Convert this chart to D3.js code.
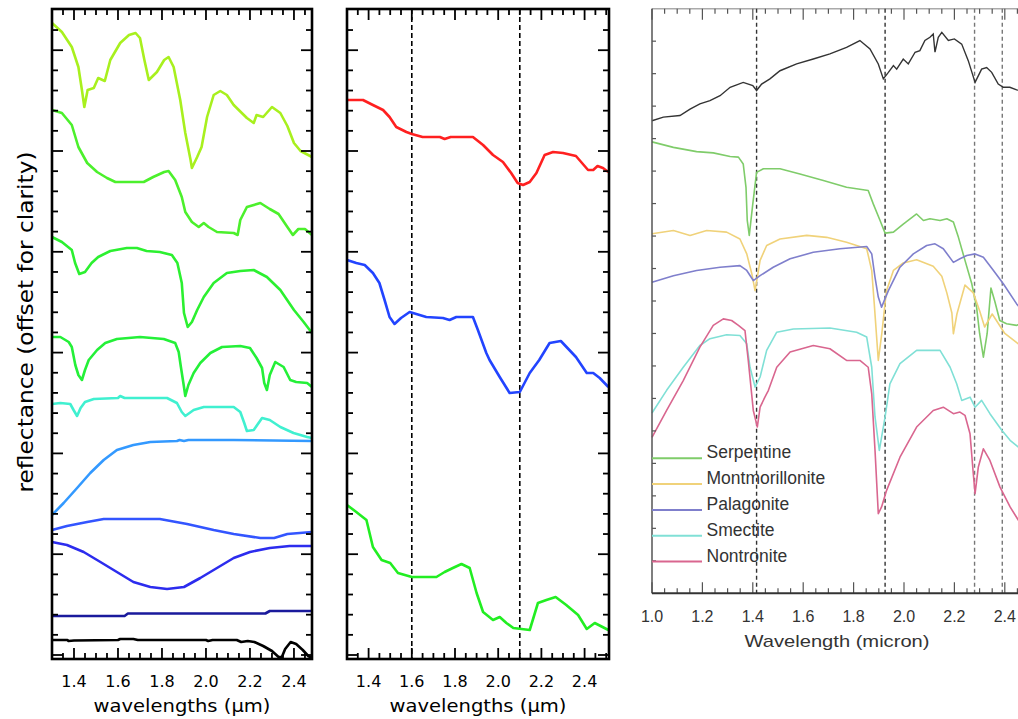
<!DOCTYPE html>
<html>
<head>
<meta charset="utf-8">
<script src="https://cdn.jsdelivr.net/npm/d3@7"></script>
<style>
  html, body { margin: 0; padding: 0; background: #fff; }
  svg { display: block; }
</style>
</head>
<body>
<div id="chart"></div>
<script>
'use strict';

// ---------- data (wavelength in micron, reflectance offset for clarity) ----------

// left panel, top to bottom
const leftSpec1 = [[1.30,6.36],[1.345,6.27],[1.39,6.12],[1.42,5.92],[1.436,5.69],[1.447,5.52],[1.462,5.69],[1.49,5.71],[1.51,5.81],[1.54,5.78],[1.565,5.99],[1.61,6.16],[1.65,6.24],[1.68,6.26],[1.70,6.21],[1.72,5.99],[1.74,5.79],[1.777,5.87],[1.81,5.99],[1.83,6.02],[1.853,5.92],[1.883,5.59],[1.906,5.26],[1.93,4.99],[1.936,4.91],[1.96,5.02],[1.98,5.12],[2.005,5.42],[2.035,5.64],[2.065,5.68],[2.095,5.64],[2.126,5.54],[2.186,5.41],[2.217,5.36],[2.23,5.44],[2.26,5.42],[2.30,5.52],[2.338,5.46],[2.37,5.33],[2.40,5.16],[2.43,5.08],[2.482,5.02]];
const leftSpec2 = [[1.30,5.49],[1.345,5.46],[1.39,5.34],[1.42,5.12],[1.46,4.96],[1.505,4.87],[1.55,4.81],[1.588,4.77],[1.717,4.77],[1.76,4.82],[1.81,4.87],[1.83,4.88],[1.86,4.79],[1.89,4.62],[1.906,4.47],[1.936,4.37],[1.967,4.32],[1.99,4.36],[2.012,4.32],[2.05,4.27],[2.126,4.26],[2.144,4.24],[2.156,4.39],[2.186,4.52],[2.247,4.56],[2.29,4.50],[2.33,4.45],[2.37,4.32],[2.395,4.24],[2.42,4.30],[2.45,4.30],[2.482,4.24]];
const leftSpec3 = [[1.30,4.22],[1.345,4.17],[1.39,4.09],[1.405,3.96],[1.424,3.85],[1.45,3.87],[1.48,3.96],[1.51,4.02],[1.565,4.08],[1.64,4.11],[1.686,4.11],[1.73,4.08],[1.79,4.07],[1.845,4.04],[1.87,3.96],[1.89,3.76],[1.90,3.46],[1.917,3.32],[1.936,3.37],[1.96,3.49],[1.99,3.62],[2.035,3.76],[2.095,3.86],[2.156,3.88],[2.217,3.89],[2.277,3.82],[2.338,3.69],[2.40,3.49],[2.444,3.37],[2.482,3.26]];
const leftSpec4 = [[1.30,3.22],[1.338,3.22],[1.376,3.17],[1.39,3.12],[1.406,2.94],[1.42,2.84],[1.436,2.79],[1.45,2.89],[1.467,2.99],[1.505,3.09],[1.542,3.16],[1.595,3.20],[1.70,3.22],[1.808,3.20],[1.86,3.16],[1.876,3.07],[1.886,2.92],[1.90,2.72],[1.906,2.63],[1.92,2.74],[1.944,2.86],[1.974,2.96],[2.02,3.06],[2.073,3.12],[2.156,3.13],[2.20,3.11],[2.23,3.01],[2.255,2.91],[2.265,2.76],[2.277,2.69],[2.29,2.84],[2.315,2.97],[2.353,2.92],[2.383,2.79],[2.41,2.77],[2.46,2.76],[2.482,2.72]];
const leftSpec5 = [[1.30,2.55],[1.338,2.56],[1.383,2.55],[1.398,2.49],[1.414,2.43],[1.43,2.51],[1.45,2.57],[1.49,2.60],[1.60,2.61],[1.61,2.63],[1.63,2.61],[1.70,2.61],[1.823,2.61],[1.868,2.56],[1.89,2.47],[1.906,2.43],[1.944,2.49],[1.99,2.52],[2.126,2.52],[2.156,2.47],[2.174,2.36],[2.186,2.28],[2.217,2.29],[2.255,2.41],[2.29,2.39],[2.338,2.32],[2.398,2.26],[2.46,2.22],[2.482,2.21]];
const leftSpec6 = [[1.30,1.44],[1.353,1.56],[1.414,1.71],[1.474,1.86],[1.535,1.99],[1.595,2.09],[1.67,2.14],[1.747,2.17],[1.868,2.18],[1.88,2.19],[1.90,2.18],[1.92,2.19],[2.126,2.19],[2.482,2.18]];
const leftSpec7 = [[1.30,1.29],[1.368,1.33],[1.46,1.37],[1.535,1.40],[1.79,1.40],[1.914,1.35],[2.035,1.29],[2.126,1.25],[2.247,1.21],[2.31,1.21],[2.37,1.25],[2.482,1.27]];
const leftSpec8 = [[1.30,1.17],[1.368,1.14],[1.444,1.07],[1.52,0.97],[1.595,0.87],[1.67,0.77],[1.747,0.72],[1.823,0.70],[1.90,0.72],[1.974,0.81],[2.05,0.91],[2.126,1.01],[2.20,1.07],[2.29,1.11],[2.38,1.13],[2.482,1.13]];
const leftSpec9 = [[1.30,0.43],[1.63,0.43],[1.645,0.455],[2.27,0.455],[2.29,0.48],[2.482,0.48]];
const leftSpec10 = [[1.30,0.19],[1.37,0.19],[1.375,0.18],[1.40,0.185],[1.60,0.19],[1.61,0.20],[1.67,0.20],[1.69,0.19],[2.00,0.19],[2.01,0.18],[2.03,0.19],[2.14,0.19],[2.16,0.17],[2.19,0.18],[2.22,0.17],[2.26,0.13],[2.30,0.08],[2.33,0.02],[2.345,0.02],[2.36,0.10],[2.385,0.17],[2.41,0.15],[2.44,0.09],[2.465,0.03],[2.482,0.01]];

// middle panel, top to bottom
const midRed = [[1.30,5.59],[1.374,5.59],[1.42,5.54],[1.467,5.49],[1.497,5.42],[1.528,5.32],[1.575,5.27],[1.60,5.25],[1.65,5.22],[1.73,5.22],[1.752,5.20],[1.78,5.22],[1.883,5.22],[1.93,5.14],[1.976,5.04],[2.022,4.97],[2.06,4.86],[2.09,4.76],[2.115,4.74],[2.146,4.77],[2.177,4.86],[2.215,5.04],[2.254,5.07],[2.30,5.06],[2.36,5.03],[2.416,4.89],[2.44,4.89],[2.46,4.93],[2.485,4.91],[2.51,4.87]];
const midBlue = [[1.30,3.99],[1.343,3.96],[1.382,3.94],[1.42,3.86],[1.45,3.76],[1.474,3.59],[1.497,3.42],[1.52,3.35],[1.55,3.41],[1.59,3.47],[1.667,3.42],[1.744,3.41],[1.775,3.39],[1.806,3.42],[1.883,3.42],[1.906,3.29],[1.945,3.06],[1.96,2.99],[2.007,2.82],[2.053,2.66],[2.10,2.67],[2.146,2.86],[2.19,2.99],[2.238,3.16],[2.29,3.18],[2.36,3.02],[2.41,2.86],[2.44,2.86],[2.47,2.81],[2.51,2.72]];
const midGreen = [[1.30,1.54],[1.343,1.47],[1.39,1.39],[1.42,1.12],[1.46,0.99],[1.50,0.96],[1.536,0.86],[1.60,0.82],[1.714,0.82],[1.752,0.87],[1.79,0.91],[1.83,0.95],[1.868,0.91],[1.90,0.66],[1.93,0.47],[1.976,0.39],[2.007,0.42],[2.038,0.36],[2.07,0.31],[2.146,0.29],[2.184,0.56],[2.223,0.59],[2.266,0.62],[2.315,0.54],[2.37,0.44],[2.41,0.30],[2.447,0.36],[2.51,0.29]];

// right panel
const rightMeasured = [[1.0,1.455],[1.045,1.466],[1.111,1.471],[1.151,1.491],[1.19,1.507],[1.23,1.517],[1.27,1.532],[1.31,1.558],[1.362,1.573],[1.40,1.563],[1.415,1.548],[1.435,1.568],[1.468,1.584],[1.508,1.609],[1.574,1.63],[1.64,1.645],[1.706,1.661],[1.772,1.681],[1.825,1.702],[1.865,1.676],[1.898,1.63],[1.918,1.584],[1.938,1.604],[1.958,1.625],[1.971,1.614],[1.997,1.645],[2.017,1.63],[2.044,1.666],[2.063,1.671],[2.083,1.702],[2.103,1.712],[2.116,1.722],[2.123,1.666],[2.136,1.712],[2.15,1.727],[2.176,1.702],[2.20,1.707],[2.229,1.691],[2.255,1.64],[2.282,1.573],[2.308,1.614],[2.328,1.619],[2.348,1.604],[2.374,1.568],[2.394,1.558],[2.42,1.558],[2.447,1.55],[2.48,1.545]];
const serpentine = [[1.0,1.39],[1.085,1.373],[1.177,1.36],[1.243,1.356],[1.31,1.345],[1.343,1.343],[1.362,1.322],[1.373,1.25],[1.378,1.148],[1.386,1.102],[1.40,1.199],[1.415,1.296],[1.442,1.307],[1.508,1.307],[1.587,1.291],[1.68,1.271],[1.772,1.25],[1.858,1.24],[1.878,1.199],[1.905,1.148],[1.925,1.109],[1.958,1.112],[1.997,1.137],[2.05,1.168],[2.077,1.148],[2.103,1.153],[2.143,1.148],[2.17,1.153],[2.196,1.143],[2.216,1.096],[2.242,1.025],[2.269,0.953],[2.288,0.881],[2.30,0.80],[2.315,0.727],[2.33,0.80],[2.345,0.94],[2.36,0.90],[2.38,0.84],[2.407,0.83],[2.447,0.825],[2.49,0.84]];
const montmorillonite = [[1.0,1.107],[1.085,1.117],[1.151,1.102],[1.217,1.117],[1.296,1.112],[1.349,1.091],[1.376,1.045],[1.396,0.984],[1.409,0.932],[1.429,1.025],[1.455,1.071],[1.508,1.091],[1.614,1.102],[1.693,1.096],[1.772,1.081],[1.852,1.061],[1.872,0.994],[1.882,0.891],[1.898,0.717],[1.912,0.80],[1.93,0.93],[1.958,0.994],[1.997,1.017],[2.05,1.027],[2.116,1.007],[2.15,0.976],[2.17,0.925],[2.19,0.863],[2.196,0.799],[2.21,0.86],[2.242,0.949],[2.275,0.925],[2.30,0.87],[2.32,0.82],[2.35,0.86],[2.40,0.80],[2.45,0.77],[2.49,0.75]];
const palagonite = [[1.0,0.958],[1.085,0.978],[1.177,0.994],[1.27,1.004],[1.349,1.009],[1.376,0.994],[1.402,0.963],[1.429,0.978],[1.481,1.004],[1.548,1.03],[1.64,1.05],[1.746,1.061],[1.852,1.068],[1.872,1.045],[1.885,0.973],[1.898,0.912],[1.911,0.881],[1.938,0.932],[1.984,1.004],[2.037,1.045],[2.09,1.071],[2.123,1.076],[2.156,1.061],[2.196,1.019],[2.222,1.03],[2.249,1.04],[2.282,1.045],[2.315,1.035],[2.355,0.994],[2.394,0.953],[2.447,0.891],[2.49,0.85]];
const smectite = [[1.0,0.555],[1.058,0.625],[1.124,0.696],[1.19,0.763],[1.23,0.784],[1.296,0.796],[1.349,0.794],[1.376,0.768],[1.389,0.696],[1.409,0.635],[1.429,0.666],[1.455,0.748],[1.495,0.804],[1.561,0.814],[1.706,0.817],[1.812,0.804],[1.852,0.789],[1.872,0.696],[1.885,0.543],[1.902,0.44],[1.925,0.543],[1.944,0.645],[1.984,0.707],[2.05,0.748],[2.143,0.748],[2.183,0.696],[2.209,0.645],[2.229,0.594],[2.262,0.604],[2.282,0.573],[2.308,0.594],[2.341,0.553],[2.388,0.502],[2.421,0.471],[2.454,0.45],[2.49,0.43]];
const nontronite = [[1.0,0.48],[1.058,0.563],[1.124,0.655],[1.19,0.758],[1.243,0.825],[1.283,0.845],[1.316,0.84],[1.343,0.825],[1.369,0.809],[1.382,0.717],[1.402,0.563],[1.418,0.512],[1.429,0.573],[1.448,0.604],[1.462,0.625],[1.495,0.696],[1.548,0.743],[1.64,0.763],[1.706,0.753],[1.772,0.717],[1.825,0.717],[1.858,0.696],[1.872,0.614],[1.885,0.44],[1.898,0.245],[1.911,0.266],[1.931,0.317],[1.984,0.419],[2.05,0.512],[2.116,0.563],[2.156,0.573],[2.196,0.553],[2.222,0.558],[2.242,0.548],[2.262,0.491],[2.275,0.368],[2.282,0.307],[2.295,0.389],[2.315,0.445],[2.341,0.409],[2.381,0.327],[2.421,0.266],[2.454,0.225],[2.49,0.20]];

const mineralNames = ['Serpentine', 'Montmorillonite', 'Palagonite', 'Smectite', 'Nontronite'];

// absorption band markers (micron)
const midBands   = [1.6, 2.1];
const rightBands = [1.415, 1.925, 2.28, 2.39];

// tick labels
const leftTickLabels  = ['1.4', '1.6', '1.8', '2.0', '2.2', '2.4'];
const rightTickLabels = ['1.0', '1.2', '1.4', '1.6', '1.8', '2.0', '2.2', '2.4'];

// ---------- styles ----------
const leftColors  = ['#a8f01e', '#4cf02c', '#2cf030', '#24f038', '#40f0d0', '#3399ff', '#3355ff', '#2c2cee', '#1a1a9c', '#000000'];
const midColors   = ['#ff2020', '#2244ff', '#22ee22'];
const mineralColors = ['#7fcc6a', '#f0d27a', '#7f7fcc', '#80e0d6', '#d9668f'];

const W = 1018, H = 719;
const hershey = '"DejaVu Sans", sans-serif';
const arial   = '"Liberation Sans", Arial, sans-serif';

const svg = d3.select('#chart').append('svg')
    .attr('width', W)
    .attr('height', H);

// Draws one of the two black-framed IDL style panels
let framedPanel = function(geo, series, colors, bands) {
    let x = d3.scaleLinear().domain(geo.xDomain).range([geo.left, geo.right]);
    let y = d3.scaleLinear().domain([0, 6.5]).range([geo.bottom, geo.top]);
    let g = svg.append('g');

    g.selectAll('line.band')
        .data(bands)
        .enter()
        .append('line')
        .attr('x1', d => x(d)).attr('x2', d => x(d))
        .attr('y1', geo.top).attr('y2', geo.bottom)
        .attr('stroke', '#000')
        .attr('stroke-width', 1.6)
        .attr('stroke-dasharray', '5,3');

    let line = d3.line().x(d => x(d[0])).y(d => y(d[1]));
    g.selectAll('path.spec')
        .data(series)
        .enter()
        .append('path')
        .attr('d', d => line(d))
        .attr('fill', 'none')
        .attr('stroke', (d, i) => colors[i])
        .attr('stroke-width', 2.6)
        .attr('stroke-linejoin', 'round');

    // x ticks every 0.05, long every 0.2
    let xt = [];
    for (let k = 26; k <= 51; k++) {
        let v = k / 20;
        if (v > geo.xDomain[0] + 0.001 && v < geo.xDomain[1] - 0.001) xt.push({v: v, major: k % 4 === 0});
    }
    let ticks = g.append('g').attr('stroke', '#000').attr('stroke-width', 1.8);
    for (let t of xt) {
        let len = t.major ? 11 : 6;
        ticks.append('line').attr('x1', x(t.v)).attr('x2', x(t.v)).attr('y1', geo.bottom).attr('y2', geo.bottom - len);
        ticks.append('line').attr('x1', x(t.v)).attr('x2', x(t.v)).attr('y1', geo.top).attr('y2', geo.top + len);
    }
    // y ticks (no labels, offsets are arbitrary)
    for (let k = 0; k <= 31; k++) {
        let v = 0.04 + k * 0.2016;
        if (v > 6.45) break;
        let len = (k % 5 === 0) ? 11 : 6;
        ticks.append('line').attr('x1', geo.left).attr('x2', geo.left + len).attr('y1', y(v)).attr('y2', y(v));
        ticks.append('line').attr('x1', geo.right).attr('x2', geo.right - len).attr('y1', y(v)).attr('y2', y(v));
    }

    g.append('rect')
        .attr('x', geo.left).attr('y', geo.top)
        .attr('width', geo.right - geo.left).attr('height', geo.bottom - geo.top)
        .attr('fill', 'none')
        .attr('stroke', '#000')
        .attr('stroke-width', 2.6);

    g.selectAll('text.tick')
        .data(leftTickLabels)
        .enter()
        .append('text')
        .attr('x', d => x(+d))
        .attr('y', 687)
        .attr('text-anchor', 'middle')
        .attr('font-family', hershey)
        .attr('font-size', 16)
        .attr('fill', '#000')
        .text(d => d);

    g.append('text')
        .attr('x', (geo.left + geo.right) / 2)
        .attr('y', 712)
        .attr('text-anchor', 'middle')
        .attr('font-family', hershey)
        .attr('font-size', 18)
        .attr('textLength', 177)
        .attr('lengthAdjust', 'spacingAndGlyphs')
        .text('wavelengths (\u03bcm)');
};

framedPanel({left: 52, right: 312, top: 9, bottom: 659, xDomain: [1.3, 2.482]},
    [leftSpec1, leftSpec2, leftSpec3, leftSpec4, leftSpec5, leftSpec6, leftSpec7, leftSpec8, leftSpec9, leftSpec10],
    leftColors, []);
framedPanel({left: 347, right: 609, top: 9, bottom: 659, xDomain: [1.3, 2.513]},
    [midRed, midBlue, midGreen], midColors, midBands);

svg.append('text')
    .attr('transform', 'translate(33,322) rotate(-90)')
    .attr('text-anchor', 'middle')
    .attr('font-family', hershey)
    .attr('font-size', 22)
    .attr('textLength', 341)
    .attr('lengthAdjust', 'spacingAndGlyphs')
    .text('reflectance (offset for clarity)');

// ---------- right panel (library spectra) ----------
const r = {left: 652, top: 8.7, bottom: 593.3};
const x3 = d3.scaleLinear().domain([1.0, 2.5]).range([r.left, r.left + 1.5 * 252]);
const y3 = d3.scaleLinear().domain([0, 1.8]).range([r.bottom, r.top]);
const g3 = svg.append('g');

g3.append('line')
    .attr('x1', r.left).attr('x2', W).attr('y1', r.top).attr('y2', r.top)
    .attr('stroke', '#aaa').attr('stroke-width', 1.5);

g3.selectAll('line.band')
    .data(rightBands)
    .enter()
    .append('line')
    .attr('x1', d => x3(d)).attr('x2', d => x3(d))
    .attr('y1', r.top).attr('y2', r.bottom)
    .attr('stroke', (d, i) => i < 2 ? '#333' : '#777')
    .attr('stroke-width', 1.4)
    .attr('stroke-dasharray', '4,3');

const line3 = d3.line().x(d => x3(d[0])).y(d => y3(d[1]));
const rightSeries = [serpentine, montmorillonite, palagonite, smectite, nontronite];
g3.selectAll('path.mineral')
    .data(rightSeries)
    .enter()
    .append('path')
    .attr('d', d => line3(d))
    .attr('fill', 'none')
    .attr('stroke', (d, i) => mineralColors[i])
    .attr('stroke-width', 1.6)
    .attr('stroke-linejoin', 'round');

g3.append('path')
    .attr('d', line3(rightMeasured))
    .attr('fill', 'none')
    .attr('stroke', '#333')
    .attr('stroke-width', 1.4);

// axes
let t3 = g3.append('g').attr('stroke', '#555').attr('stroke-width', 1.2);
for (let k = 20; k <= 50; k++) {
    let v = k / 20;
    let len = (k % 4 === 0) ? 11 : 5;
    t3.append('line').attr('x1', x3(v)).attr('x2', x3(v)).attr('y1', r.bottom).attr('y2', r.bottom - len);
    t3.append('line').attr('x1', x3(v)).attr('x2', x3(v)).attr('y1', r.top).attr('y2', r.top + len);
}
for (let k = 1; k <= 17; k++) {
    t3.append('line').attr('x1', r.left).attr('x2', r.left + 4).attr('y1', y3(k / 10)).attr('y2', y3(k / 10));
}
g3.append('line')
    .attr('x1', r.left).attr('x2', r.left).attr('y1', r.top).attr('y2', r.bottom)
    .attr('stroke', '#555').attr('stroke-width', 1.5);
g3.append('line')
    .attr('x1', r.left).attr('x2', W).attr('y1', r.bottom).attr('y2', r.bottom)
    .attr('stroke', '#333').attr('stroke-width', 2);

g3.selectAll('text.tick')
    .data(rightTickLabels)
    .enter()
    .append('text')
    .attr('x', d => x3(+d))
    .attr('y', 621.5)
    .attr('text-anchor', 'middle')
    .attr('font-family', arial)
    .attr('font-size', 16)
    .attr('fill', '#333')
    .text(d => d);

g3.append('text')
    .attr('x', 837)
    .attr('y', 646.5)
    .attr('text-anchor', 'middle')
    .attr('font-family', arial)
    .attr('font-size', 17)
    .attr('textLength', 185)
    .attr('lengthAdjust', 'spacingAndGlyphs')
    .attr('fill', '#333')
    .text('Wavelength (micron)');

// legend
let legend = g3.selectAll('g.legend')
    .data(mineralNames)
    .enter()
    .append('g')
    .attr('transform', (d, i) => 'translate(0,' + (458.3 + i * 25.8) + ')');
legend.append('line')
    .attr('x1', r.left).attr('x2', 702)
    .attr('y1', 0).attr('y2', 0)
    .attr('stroke', (d, i) => mineralColors[i])
    .attr('stroke-width', 2);
legend.append('text')
    .attr('x', 706.5)
    .attr('y', 0)
    .attr('font-family', arial)
    .attr('font-size', 17.5)
    .attr('fill', '#333')
    .text(d => d);
</script>
</body>
</html>
